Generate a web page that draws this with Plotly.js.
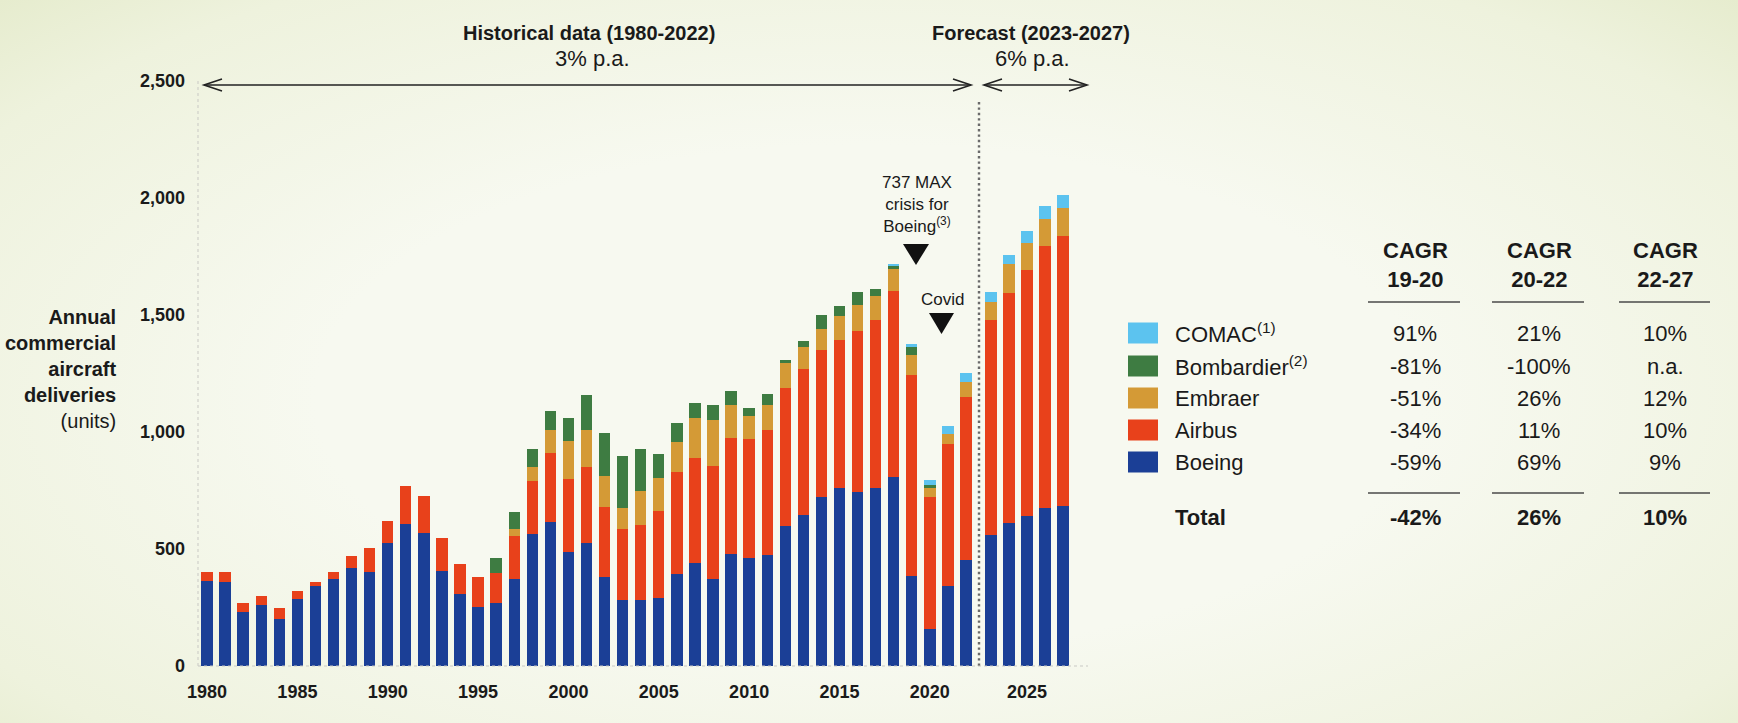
<!DOCTYPE html>
<html>
<head>
<meta charset="utf-8">
<script src="https://cdn.plot.ly/plotly-3.0.1.min.js"></script>
<style>
  html, body { margin: 0; padding: 0; }
  body {
    width: 1738px; height: 723px; overflow: hidden;
    background: radial-gradient(ellipse at 50% 55%, #f7f9f0 45%, #eef2dd 85%, #e6ecce 100%);
  }
  #myDiv { width: 1738px; height: 723px; }
</style>
</head>
<body>
<div id="myDiv"></div>
<script>
// Entregas anuales por fabricante (unidades)
var yearsHist = [1980,1981,1982,1983,1984,1985,1986,1987,1988,1989,1990,1991,1992,1993,1994,1995,1996,1997,1998,1999,2000,2001,2002,2003,2004,2005,2006,2007,2008,2009,2010,2011,2012,2013,2014,2015,2016,2017,2018,2019,2020,2021,2022];
var yearsFcst = [2023,2024,2025,2026,2027];

var boeingHist = [363,357,229,262,199,285,343,370,417,400,524,605,568,407,309,254,268,372,563,617,489,524,379,281,283,289,395,440,372,480,460,474,600,645,721,759,745,762,809,383,158,344,455];
var airbusHist = [37,43,42,38,50,35,17,30,52,106,97,163,160,139,125,126,131,185,229,295,312,326,302,303,318,375,434,450,483,494,510,535,588,626,628,634,688,717,794,861,566,605,695];
var embraerHist = [0,0,0,0,0,0,0,0,0,0,0,0,0,0,0,0,0,28,58,97,161,159,130,93,148,141,130,171,198,141,98,106,105,92,93,103,108,102,93,86,40,42,64];
var bombardierHist = [0,0,0,0,0,0,0,0,0,0,0,0,0,0,0,0,64,72,77,82,98,149,186,222,177,100,79,62,62,62,35,49,15,24,59,44,56,32,14,32,8,0,0];
var comacHist = [0,0,0,0,0,0,0,0,0,0,0,0,0,0,0,0,0,0,0,0,0,0,0,0,0,0,0,0,0,0,0,0,0,0,0,0,0,0,4,13,25,33,39];

var boeingFcst = [559,609,642,676,685];
var airbusFcst = [921,987,1052,1121,1151];
var embraerFcst = [77,120,115,114,123];
var bombardierFcst = [0,0,0,0,0];
var comacFcst = [41,41,50,54,53];

// Tabla CAGR
var companies = ['COMAC','Bombardier','Embraer','Airbus','Boeing'];
var notes = ['(1)','(2)','','',''];
var cagrHeaders = ['CAGR<br>19-20','CAGR<br>20-22','CAGR<br>22-27'];
var cagr1920 = ['91%','-81%','-51%','-34%','-59%'];
var cagr2022 = ['21%','-100%','26%','11%','69%'];
var cagr2227 = ['10%','n.a.','12%','10%','9%'];
var cagrTotal = ['-42%','26%','10%'];

var xTicksHist = [1980,1985,1990,1995,2000,2005,2010,2015,2020];
var xTicksFcst = [2025];
var yTicks = [0,500,1000,1500,2000,2500];

var colores = {
  COMAC: '#5cc3ef',
  Bombardier: '#3e7c42',
  Embraer: '#d49a36',
  Airbus: '#e8411b',
  Boeing: '#1b3f96'
};

var SANS = '"Liberation Sans", Arial, Helvetica, sans-serif';
var INK = '#1a1a1a';

// pixeles -> coordenadas paper
var W = 1738, H = 723;
var M = {l: 198, r: 666, t: 81, b: 57};
function px(x) { return (x - M.l) / (W - M.l - M.r); }
function py(y) { return (H - M.b - y) / (H - M.t - M.b); }
function pathPx(pts, close) {
  var s = pts.map(function (p, i) { return (i ? 'L' : 'M') + px(p[0]).toFixed(5) + ',' + py(p[1]).toFixed(5); }).join(' ');
  return close ? s + ' Z' : s;
}

// TRAZAS
var series = [
  ['Boeing', boeingHist, boeingFcst],
  ['Airbus', airbusHist, airbusFcst],
  ['Embraer', embraerHist, embraerFcst],
  ['Bombardier', bombardierHist, bombardierFcst],
  ['COMAC', comacHist, comacFcst]
];

var data = [];
for (var i = 0; i < series.length; i++) {
  data.push({
    x: yearsHist, y: series[i][1], type: 'bar', name: series[i][0],
    xaxis: 'x', yaxis: 'y',
    marker: {color: colores[series[i][0]], line: {width: 0}},
    hoverinfo: 'x+y+name'
  });
  data.push({
    x: yearsFcst, y: series[i][2], type: 'bar', name: series[i][0],
    xaxis: 'x2', yaxis: 'y',
    marker: {color: colores[series[i][0]], line: {width: 0}},
    hoverinfo: 'x+y+name'
  });
}

// ANOTACIONES
var annotations = [];
function addText(text, x, y, size, opts) {
  opts = opts || {};
  annotations.push({
    xref: 'paper', yref: 'paper', x: px(x), y: py(y),
    text: text, showarrow: false,
    xanchor: opts.xanchor || 'center', yanchor: 'middle',
    align: opts.align || 'center',
    font: {family: SANS, size: size, color: INK, weight: opts.weight || 'normal'}
  });
}

addText('Historical data (1980-2022)', 589, 33, 20, {weight: 'bold'});
addText('3% p.a.', 592, 59, 22);
addText('Forecast (2023-2027)', 1031, 33, 20, {weight: 'bold'});
addText('6% p.a.', 1032, 59, 22);

addText('<b>Annual</b><br><b>commercial</b><br><b>aircraft</b><br><b>deliveries</b><br>(units)', 119, 369, 20, {xanchor: 'right', align: 'right'});

addText('737 MAX<br>crisis for<br>Boeing<sup>(3)</sup>', 917, 204, 17);
addText('Covid', 942, 299, 17);

var rowY = [333, 366, 398, 430, 462];
var colX = [1415, 1539, 1665];
var cols = [cagr1920, cagr2022, cagr2227];

for (var c = 0; c < 3; c++) {
  addText(cagrHeaders[c], colX[c], 265, 22, {weight: 'bold'});
  for (var r = 0; r < companies.length; r++) {
    addText(cols[c][r], colX[c], rowY[r], 22);
  }
  addText(cagrTotal[c], colX[c], 517, 22, {weight: 'bold'});
}
for (var r = 0; r < companies.length; r++) {
  addText(companies[r] + (notes[r] ? '<sup>' + notes[r] + '</sup>' : ''), 1173, rowY[r], 22, {xanchor: 'left', align: 'left'});
}
addText('Total', 1173, 517, 22, {xanchor: 'left', align: 'left', weight: 'bold'});

// FORMAS
var shapes = [];
for (var r = 0; r < companies.length; r++) {
  shapes.push({
    type: 'rect', xref: 'paper', yref: 'paper',
    x0: px(1128), x1: px(1158), y0: py(rowY[r] + 10.5), y1: py(rowY[r] - 10.5),
    fillcolor: colores[companies[r]], line: {width: 0}
  });
}
var colLines = [[1368, 1460], [1492, 1584], [1619, 1710]];
[302, 493].forEach(function (ly) {
  colLines.forEach(function (cl) {
    shapes.push({
      type: 'line', xref: 'paper', yref: 'paper',
      x0: px(cl[0]), x1: px(cl[1]), y0: py(ly), y1: py(ly),
      line: {color: '#4a4a4a', width: 1.5}
    });
  });
});

// flechas superiores
var arrowStyle = {color: '#222', width: 1.6};
shapes.push({type: 'path', xref: 'paper', yref: 'paper', path: pathPx([[204, 85], [971, 85]]), line: arrowStyle});
shapes.push({type: 'path', xref: 'paper', yref: 'paper', path: pathPx([[222, 79], [204, 85], [222, 91]]), line: arrowStyle});
shapes.push({type: 'path', xref: 'paper', yref: 'paper', path: pathPx([[953, 79], [971, 85], [953, 91]]), line: arrowStyle});
shapes.push({type: 'path', xref: 'paper', yref: 'paper', path: pathPx([[984, 85], [1087, 85]]), line: arrowStyle});
shapes.push({type: 'path', xref: 'paper', yref: 'paper', path: pathPx([[1002, 79], [984, 85], [1002, 91]]), line: arrowStyle});
shapes.push({type: 'path', xref: 'paper', yref: 'paper', path: pathPx([[1069, 79], [1087, 85], [1069, 91]]), line: arrowStyle});

// separador historico / pronostico
shapes.push({
  type: 'line', xref: 'paper', yref: 'paper',
  x0: px(979), x1: px(979), y0: py(102), y1: py(666),
  line: {color: '#6a6a6a', width: 2.4, dash: '2.4px,3px'}
});
// eje y y base punteados
shapes.push({
  type: 'line', xref: 'paper', yref: 'paper',
  x0: px(198), x1: px(198), y0: py(81), y1: py(666),
  line: {color: '#c9c9c4', width: 1, dash: 'dot'}
});
shapes.push({
  type: 'line', xref: 'paper', yref: 'paper',
  x0: px(198), x1: px(1088), y0: py(666), y1: py(666),
  line: {color: '#c9c9c4', width: 1, dash: 'dot'}
});

// triangulos
shapes.push({type: 'path', xref: 'paper', yref: 'paper', path: pathPx([[903, 244], [929, 244], [916, 265]], true), fillcolor: '#111', line: {width: 0}});
shapes.push({type: 'path', xref: 'paper', yref: 'paper', path: pathPx([[929, 313], [954, 313], [941.5, 334]], true), fillcolor: '#111', line: {width: 0}});

var tickFont = {family: SANS, size: 18, color: INK, weight: 'bold'};
var histSpan = (975 - M.l) / (W - M.l - M.r);
var fcstStart = (982 - M.l) / (W - M.l - M.r);

var layout = {
  width: W, height: H,
  margin: M,
  paper_bgcolor: 'rgba(0,0,0,0)',
  plot_bgcolor: 'rgba(0,0,0,0)',
  barmode: 'stack',
  bargap: 0.37,
  showlegend: false,
  xaxis: {
    domain: [0, histSpan], range: [1979.5, 2022.5],
    tickvals: xTicksHist, ticks: '', showgrid: false, zeroline: false, showline: false,
    tickfont: tickFont, ticklabelstandoff: 13
  },
  xaxis2: {
    domain: [fcstStart, 1], range: [2022.5, 2027.5], anchor: 'y',
    tickvals: xTicksFcst, ticks: '', showgrid: false, zeroline: false, showline: false,
    tickfont: tickFont, ticklabelstandoff: 13
  },
  yaxis: {
    range: [0, 2500], tickvals: yTicks, tickformat: ',',
    ticks: '', showgrid: false, zeroline: false, showline: false,
    tickfont: tickFont, ticklabelstandoff: 12
  },
  annotations: annotations,
  shapes: shapes
};

Plotly.newPlot('myDiv', data, layout, {displayModeBar: false});
</script>
</body>
</html>
